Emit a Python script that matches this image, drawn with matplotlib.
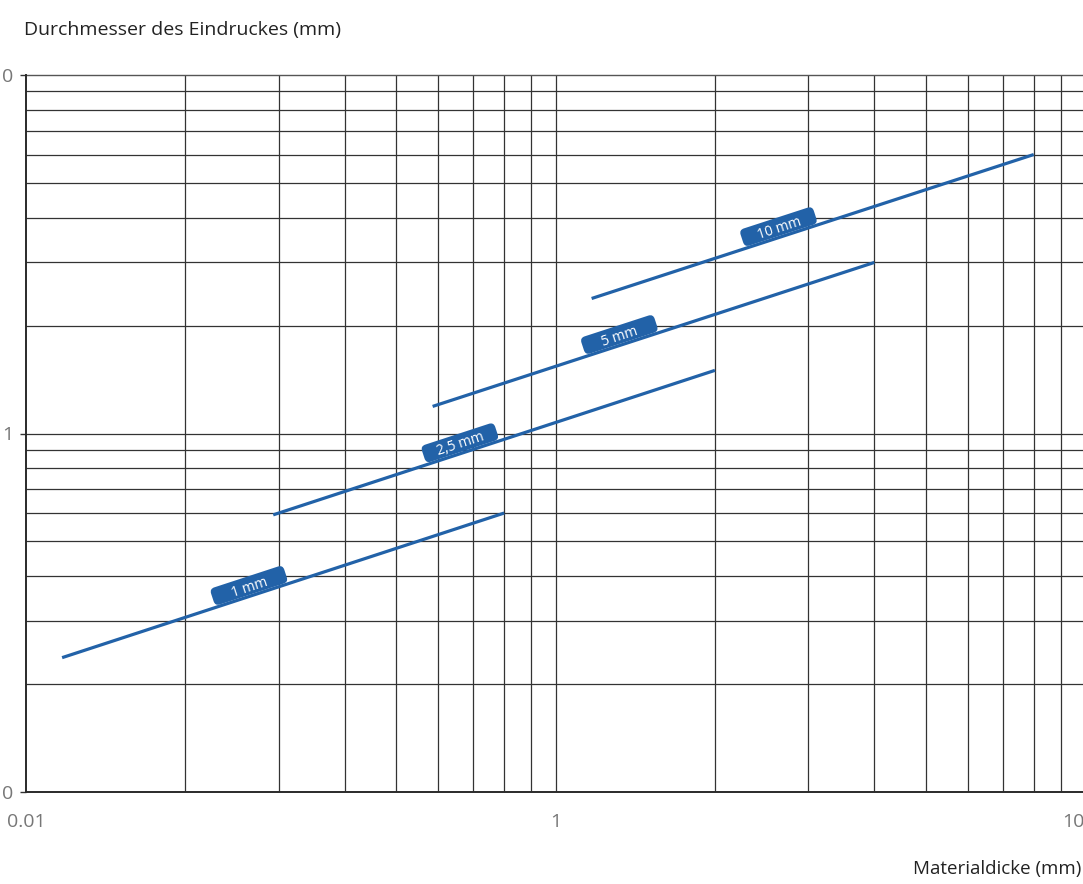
import numpy as np
import matplotlib
matplotlib.use("Agg")
import matplotlib.pyplot as plt
from matplotlib.patches import FancyBboxPatch
from matplotlib.transforms import Affine2D
from matplotlib.ticker import FixedLocator, NullFormatter

plt.rcParams['font.family'] = ['Open Sans', 'DejaVu Sans']

# Ball diameter of each indenter curve
ball_labels = ["1 mm", "2,5 mm", "5 mm", "10 mm"]
# Material thickness (mm) at the start and end of each curve
thickness_start = [0.117, 0.293, 0.586, 1.17]
thickness_end = [0.8, 2.0, 4.0, 8.0]
# Indentation diameter (mm) at the start and end of each curve
diameter_start = [0.237, 0.593, 1.19, 2.38]
diameter_end = [0.6, 1.5, 3.0, 6.0]

# Axis tick labels
x_ticks = [0.1, 1, 10]
x_tick_labels = ["0.01", "1", "10"]
y_ticks = [0.1, 1, 10]
y_tick_labels = ["0", "1", "0"]

BLUE = "#2262a8"
GRID = "#333333"
DPI = 100

W, H = 1083, 884
fig = plt.figure(figsize=(W / DPI, H / DPI), dpi=DPI)
ax = fig.add_axes([26 / W, (H - 792) / H, (W - 26) / W + 0.004, (792 - 75) / H])
ax.set_xscale("log")
ax.set_yscale("log")
ax.set_xlim(0.1, 10.1)
ax.set_ylim(0.1, 10)

# Log grid: every integer step in each decade
minor_x = [m * 10.0 ** e for e in (-1, 0) for m in range(2, 10)]
minor_y = [m * 10.0 ** e for e in (-1, 0) for m in range(2, 10)]
for v in minor_x + [1]:
    ax.axvline(v, color=GRID, lw=0.9, zorder=1)
for v in minor_y + [1]:
    ax.axhline(v, color=GRID, lw=0.9, zorder=1)
ax.axhline(10, color="#555555", lw=1.0, zorder=1, clip_on=False)

ax.xaxis.set_major_locator(FixedLocator(x_ticks))
ax.xaxis.set_minor_locator(FixedLocator([]))
ax.yaxis.set_major_locator(FixedLocator(y_ticks))
ax.yaxis.set_minor_locator(FixedLocator([]))
ax.set_xticklabels(x_tick_labels)
ax.set_yticklabels(y_tick_labels)
ax.xaxis.set_minor_formatter(NullFormatter())
ax.yaxis.set_minor_formatter(NullFormatter())
ax.tick_params(axis="x", length=0, pad=15, labelsize=14, labelcolor="#777777")
ax.tick_params(axis="y", length=4, width=1, color=GRID, pad=5,
               labelsize=14, labelcolor="#777777")
ax.get_xticklabels()[-1].set_horizontalalignment("right")

for side in ("top", "right"):
    ax.spines[side].set_visible(False)
for side in ("left", "bottom"):
    ax.spines[side].set_color("#2a2a2a")
    ax.spines[side].set_linewidth(1.4)

# Indenter curves
for x0, x1, y0, y1 in zip(thickness_start, thickness_end, diameter_start, diameter_end):
    ax.plot([x0, x1], [y0, y1], color=BLUE, lw=2.3, solid_capstyle="butt", zorder=3)

# Tag labels sitting on each curve
fig.canvas.draw()
frac = 0.43
offset_px = 10.5
box_w, box_h = 77, 18
for lab, x0, x1, y0, y1 in zip(ball_labels, thickness_start, thickness_end,
                               diameter_start, diameter_end):
    p0 = ax.transData.transform((x0, y0))
    p1 = ax.transData.transform((x1, y1))
    ang = np.degrees(np.arctan2(p1[1] - p0[1], p1[0] - p0[0]))
    xm = 10 ** (np.log10(x0) + frac * (np.log10(x1) - np.log10(x0)))
    ym = 10 ** (np.log10(y0) + frac * (np.log10(y1) - np.log10(y0)))
    t = np.radians(ang)
    cx, cy = ax.transData.transform((xm, ym))
    cx += -np.sin(t) * offset_px
    cy += np.cos(t) * offset_px
    tr = Affine2D().rotate_deg(ang).translate(cx, cy)
    tab = FancyBboxPatch((-box_w / 2, -box_h / 2), box_w, box_h,
                         boxstyle="round,pad=0,rounding_size=5",
                         fc=BLUE, ec="none", transform=tr, zorder=4, clip_on=False)
    ax.add_patch(tab)
    ax.text(cx, cy, lab, transform=None, ha="center", va="center_baseline",
            rotation=ang, rotation_mode="anchor", color="white", fontsize=10,
            zorder=5)

fig.text(24 / W, 1 - 30 / H, "Durchmesser des Eindruckes (mm)", ha="left",
         va="center", fontsize=14, color="#222222")
fig.text(1081 / W, 1 - 869 / H, "Materialdicke (mm)", ha="right", va="center",
         fontsize=13.5, color="#222222")

fig.savefig("out.png", dpi=DPI)
